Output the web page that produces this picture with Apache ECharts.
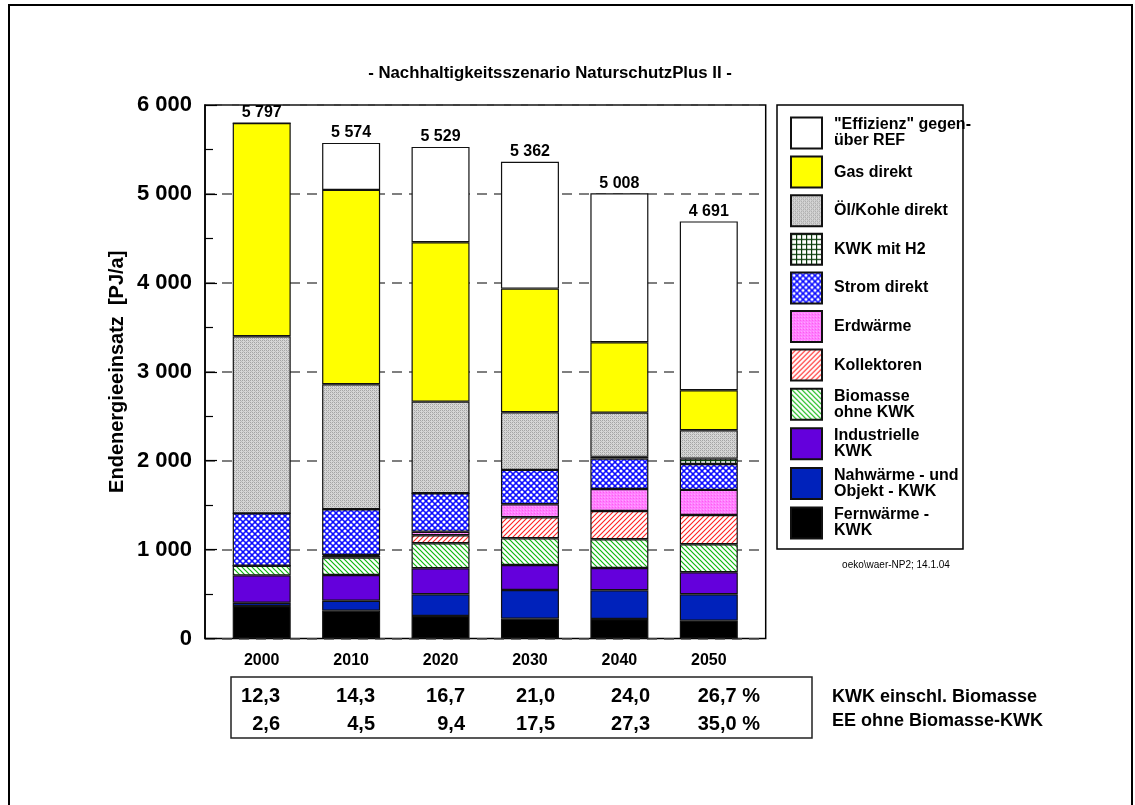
<!DOCTYPE html>
<html>
<head>
<meta charset="utf-8">
<script src="https://cdn.jsdelivr.net/npm/echarts@6/dist/echarts.min.js"></script>
<style>
  html, body { margin: 0; padding: 0; background: #fff; }
  #chart { width: 1135px; height: 805px; }
</style>
</head>
<body>
<div id="chart"></div>
<script>
// Endenergieeinsatz nach Energieträgern, PJ/a
const years = ['2000', '2010', '2020', '2030', '2040', '2050'];
const totals = [5797, 5574, 5529, 5362, 5008, 4691];

const fernwaerme  = [365, 313, 253, 223, 219, 200];
const nahwaerme   = [37, 112, 244, 323, 323, 297];
const industrie   = [308, 289, 293, 281, 251, 248];
const biomasse    = [108, 195, 281, 300, 323, 315];
const kollektoren = [0, 20, 90, 236, 318, 329];
const erdwaerme   = [0, 10, 40, 147, 248, 282];
const strom       = [589, 514, 432, 386, 341, 292];
const kwkH2       = [0, 0, 0, 0, 20, 60];
const oelKohle    = [1993, 1407, 1031, 649, 497, 319];
const gas         = [2397, 2185, 1793, 1390, 792, 450];
const effizienz   = [0, 529, 1072, 1427, 1676, 1899];

// Anteile in %
const kwkShares = ['12,3', '14,3', '16,7', '21,0', '24,0', '26,7 %'];
const eeShares  = ['2,6', '4,5', '9,4', '17,5', '27,3', '35,0 %'];
const shareLabels = ['KWK einschl. Biomasse', 'EE ohne Biomasse-KWK'];

const yMin = 0, yMax = 6000, yStep = 1000;

const FONT = '"Liberation Sans", Arial, Helvetica, sans-serif';
const fmtThousands = (v) => String(v).replace(/\B(?=(\d{3})+(?!\d))/g, ' ');

// ---- fill patterns ----
function tile(w, h, draw) {
  const c = document.createElement('canvas');
  c.width = w; c.height = h;
  const g = c.getContext('2d');
  draw(g, w, h);
  return { image: c, repeat: 'repeat' };
}
const patGray = tile(4, 4, (g) => {
  g.fillStyle = '#d6d6d6'; g.fillRect(0, 0, 4, 4);
  g.fillStyle = '#a4a4a4';
  g.fillRect(0, 0, 1, 1); g.fillRect(2, 2, 1, 1);
  g.fillRect(2, 0, 1, 1); g.fillRect(0, 2, 1, 1);
  g.fillStyle = '#bcbcbc';
  g.fillRect(1, 1, 1, 1); g.fillRect(3, 3, 1, 1);
});
const patGrid = tile(5, 5, (g) => {
  g.fillStyle = '#fff'; g.fillRect(0, 0, 5, 5);
  g.fillStyle = '#0b3d0b';
  g.fillRect(0, 0, 5, 1.2); g.fillRect(0, 0, 1.2, 5);
});
const patStrom = tile(6, 6, (g) => {
  g.fillStyle = '#0c0cff'; g.fillRect(0, 0, 6, 6);
  g.fillStyle = '#ffffff';
  [[0, 0], [6, 0], [0, 6], [6, 6], [3, 3]].forEach(([x, y]) => {
    g.beginPath(); g.arc(x, y, 1.6, 0, Math.PI * 2); g.fill();
  });
});
const patPink = tile(3, 3, (g) => {
  g.fillStyle = '#ff80ff'; g.fillRect(0, 0, 3, 3);
  g.fillStyle = '#ff5cf0'; g.fillRect(0, 0, 1, 1);
  g.fillStyle = '#ffa6ff'; g.fillRect(1, 2, 1, 1);
});
const patRed = tile(5, 5, (g) => {
  g.fillStyle = '#fff'; g.fillRect(0, 0, 5, 5);
  g.strokeStyle = '#ff2020'; g.lineWidth = 1.1;
  g.beginPath();
  g.moveTo(0, 5); g.lineTo(5, 0);
  g.moveTo(-1, 1); g.lineTo(1, -1);
  g.moveTo(4, 6); g.lineTo(6, 4);
  g.stroke();
});
const patGreen = tile(5, 5, (g) => {
  g.fillStyle = '#fff'; g.fillRect(0, 0, 5, 5);
  g.strokeStyle = '#10b810'; g.lineWidth = 1.2;
  g.beginPath();
  g.moveTo(0, 0); g.lineTo(5, 5);
  g.moveTo(4, -1); g.lineTo(6, 1);
  g.moveTo(-1, 4); g.lineTo(1, 6);
  g.stroke();
});

const layers = [
  { name: 'Fernwärme -\nKWK', data: fernwaerme, color: '#000000' },
  { name: 'Nahwärme - und\nObjekt - KWK', data: nahwaerme, color: '#0022bb' },
  { name: 'Industrielle\nKWK', data: industrie, color: '#6400dc' },
  { name: 'Biomasse\nohne KWK', data: biomasse, color: patGreen },
  { name: 'Kollektoren', data: kollektoren, color: patRed },
  { name: 'Erdwärme', data: erdwaerme, color: patPink },
  { name: 'Strom direkt', data: strom, color: patStrom },
  { name: 'KWK mit H2', data: kwkH2, color: patGrid },
  { name: 'Öl/Kohle direkt', data: oelKohle, color: patGray },
  { name: 'Gas direkt', data: gas, color: '#ffff00' },
  { name: '"Effizienz" gegen-\nüber REF', data: effizienz, color: '#ffffff' }
];

const series = layers.map((l, i) => ({
  type: 'bar',
  name: l.name,
  stack: 'total',
  barWidth: 58,
  xAxisIndex: 0,
  yAxisIndex: 0,
  data: l.data,
  itemStyle: { color: l.color, borderColor: '#111', borderWidth: 1.2 },
  emphasis: { disabled: true },
  label: i === layers.length - 1 ? {
    show: true,
    position: 'top',
    distance: 2,
    fontFamily: FONT,
    fontWeight: 'bold',
    fontSize: 16,
    color: '#000',
    formatter: (p) => fmtThousands(totals[p.dataIndex])
  } : { show: false }
}));

// share table texts
const colRight = [280, 375, 465, 555, 650, 760];
const tableTexts = [];
kwkShares.forEach((t, i) => tableTexts.push({
  type: 'text', silent: true, style: { x: colRight[i], y: 696, text: t, textAlign: 'right', textVerticalAlign: 'middle',
    font: 'bold 20px ' + FONT, fill: '#000' }
}));
eeShares.forEach((t, i) => tableTexts.push({
  type: 'text', silent: true, style: { x: colRight[i], y: 724, text: t, textAlign: 'right', textVerticalAlign: 'middle',
    font: 'bold 20px ' + FONT, fill: '#000' }
}));
shareLabels.forEach((t, i) => tableTexts.push({
  type: 'text', silent: true, style: { x: 832, y: 697 + i * 24, text: t, textAlign: 'left', textVerticalAlign: 'middle',
    font: 'bold 18px ' + FONT, fill: '#000' }
}));

const chart = echarts.init(document.getElementById('chart'), null, { renderer: 'canvas' });
chart.setOption({
  backgroundColor: '#fff',
  animation: false,
  textStyle: { fontFamily: FONT },
  grid: [
    // bar area: six equal category bands
    { left: 217, right: 381.5, top: 105, bottom: 166.5 },
    // framed plot box with the value scale and the dashed grid
    { left: 205, right: 369.3, top: 105, bottom: 166.5,
      show: true, borderColor: '#000', borderWidth: 1.5, backgroundColor: 'transparent' }
  ],
  xAxis: [
    {
      gridIndex: 0,
      type: 'category',
      data: years,
      boundaryGap: true,
      axisLine: { show: false },
      axisTick: { show: false },
      splitLine: { show: false },
      axisLabel: { fontFamily: FONT, fontWeight: 'bold', fontSize: 16, color: '#000', margin: 14 }
    },
    {
      gridIndex: 1,
      type: 'value',
      min: 0, max: 1,
      show: false
    }
  ],
  yAxis: [
    {
      gridIndex: 0,
      type: 'value',
      min: yMin, max: yMax, interval: yStep,
      show: false,
      splitLine: { show: false }
    },
    {
      gridIndex: 1,
      type: 'value',
      min: yMin, max: yMax, interval: yStep,
      name: 'Endenergieeinsatz  [PJ/a]',
      nameLocation: 'middle',
      nameGap: 78,
      nameTextStyle: { fontFamily: FONT, fontWeight: 'bold', fontSize: 20, color: '#000' },
      axisLine: { show: true, lineStyle: { color: '#000', width: 1.5 } },
      axisTick: { show: true, inside: true, length: 12, lineStyle: { color: '#000', width: 1.2 } },
      minorTick: { show: true, splitNumber: 2, length: 8, lineStyle: { color: '#000', width: 1.2 } },
      splitLine: { show: true, lineStyle: { color: '#555', width: 1.5, type: [10, 7] } },
      axisLabel: {
        fontFamily: FONT, fontWeight: 'bold', fontSize: 22, color: '#000', margin: 13,
        formatter: fmtThousands
      }
    }
  ],
  legend: {
    orient: 'vertical',
    left: 790,
    top: 116,
    itemWidth: 31,
    itemHeight: 31,
    itemGap: 5.6,
    icon: 'rect',
    selectedMode: false,
    padding: 0,
    data: layers.slice().reverse().map((l) => l.name),
    textStyle: { fontFamily: FONT, fontWeight: 'bold', fontSize: 16, lineHeight: 16, color: '#000', padding: [2, 0, 0, 7] }
  },
  graphic: [
    { type: 'rect', silent: true, shape: { x: 9, y: 5, width: 1123, height: 820 },
      style: { fill: 'none', stroke: '#000', lineWidth: 2 } },
    { type: 'rect', silent: true, shape: { x: 777, y: 105, width: 186, height: 444 },
      style: { fill: 'none', stroke: '#000', lineWidth: 1.5 } },
    { type: 'rect', silent: true, shape: { x: 231, y: 677, width: 581, height: 61 },
      style: { fill: 'none', stroke: '#222', lineWidth: 1.5 } },
    { type: 'text', silent: true, style: { x: 550, y: 73, text: '- Nachhaltigkeitsszenario NaturschutzPlus II -',
      textAlign: 'center', textVerticalAlign: 'middle', font: 'bold 16.8px ' + FONT, fill: '#000' } },
    { type: 'text', silent: true, style: { x: 896, y: 565, text: 'oeko\\waer-NP2; 14.1.04',
      textAlign: 'center', textVerticalAlign: 'middle', font: '10px ' + FONT, fill: '#000' } }
  ].concat(tableTexts),
  series: series
});
</script>
</body>
</html>
